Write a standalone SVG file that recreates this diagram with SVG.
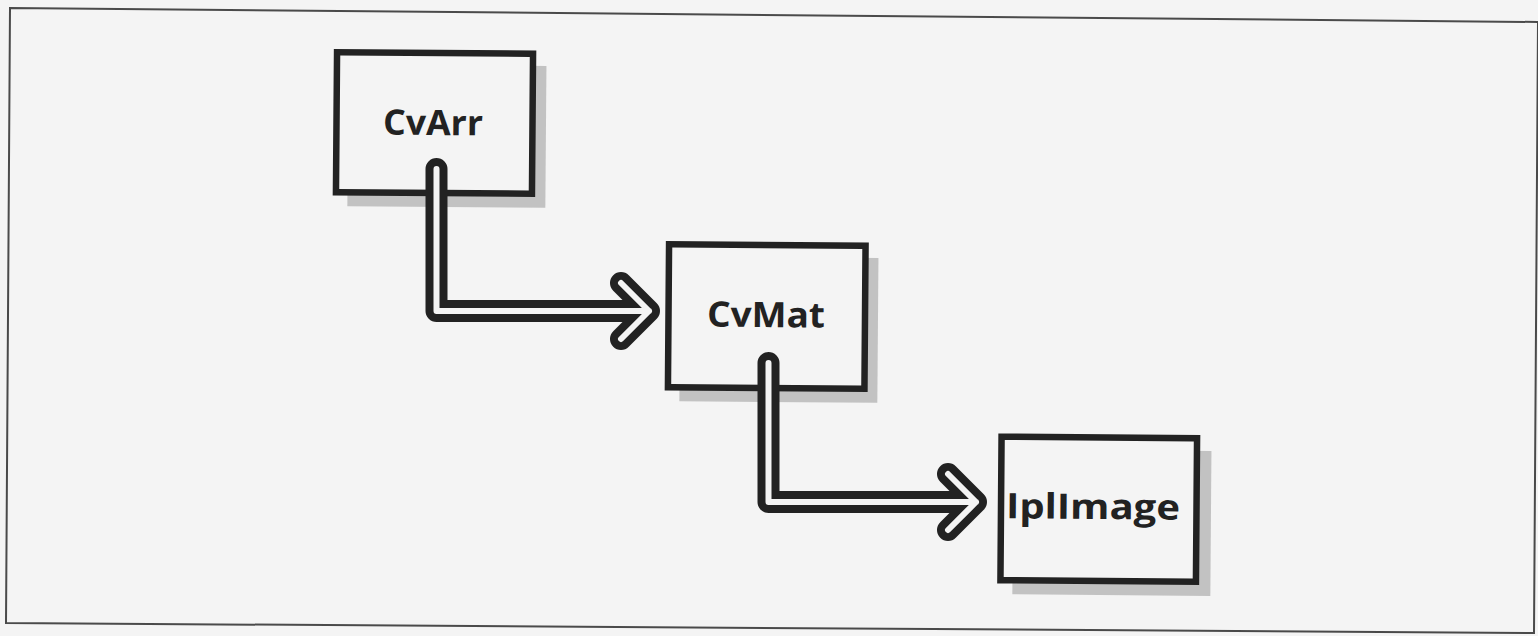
<svg xmlns="http://www.w3.org/2000/svg" width="1538" height="636" viewBox="0 0 1538 636">
  <style>
    .paper { fill: #f4f4f4; }
    .frame { fill: none; stroke: #4a4a4a; stroke-width: 2; }
    .shadow { fill: #c2c2c2; }
    .box { fill: #f4f4f4; stroke: #222; stroke-width: 6.5; }
    .label { font-family: "Open Sans", "Liberation Sans", sans-serif; font-weight: 700; font-size: 35px; fill: #222; text-anchor: middle; }
    .tube-outer { fill: none; stroke: #222; stroke-width: 22; stroke-linecap: round; stroke-linejoin: round; }
    .tube-inner { fill: none; stroke: #f4f4f4; stroke-width: 6; stroke-linecap: round; stroke-linejoin: round; }
  </style>

  <rect class="paper" x="0" y="0" width="1538" height="636"/>
  <polygon class="frame" points="10,8 1538,22 1534,633 6,623"/>

  <!-- class boxes, each with an offset drop shadow -->
  <g id="node-cvarr" transform="rotate(0.45 434.5 123)">
    <rect class="shadow" x="348" y="65" width="198" height="142"/>
    <rect class="box" x="336.5" y="53" width="196" height="140"/>
    <text class="label" x="433" y="135" textLength="100" lengthAdjust="spacingAndGlyphs">CvArr</text>
  </g>

  <g id="node-cvmat" transform="rotate(0.45 766.8 316.5)">
    <rect class="shadow" x="680" y="257" width="198" height="145"/>
    <rect class="box" x="668.5" y="245" width="196.5" height="143"/>
    <text class="label" x="766" y="327" textLength="118" lengthAdjust="spacingAndGlyphs">CvMat</text>
  </g>

  <g id="node-iplimage" transform="rotate(0.45 1098.8 509)">
    <rect class="shadow" x="1013" y="450" width="198" height="145"/>
    <rect class="box" x="1001" y="437.5" width="195.5" height="143.5"/>
    <text class="label" x="1093" y="519" textLength="174" lengthAdjust="spacingAndGlyphs">IplImage</text>
  </g>

  <!-- hollow double-line arrows: dark tube with a light core -->
  <g id="connectors">
    <path class="tube-outer" d="M436.5,169 V311 H649 M621,283 L649,311 L621,339"/>
    <path class="tube-inner" d="M436.5,169 V311 H649 M621,283 L649,311 L621,339"/>
    <path class="tube-outer" d="M768.5,363 V502 H976 M948,474 L976,502 L948,530"/>
    <path class="tube-inner" d="M768.5,363 V502 H976 M948,474 L976,502 L948,530"/>
  </g>
</svg>
